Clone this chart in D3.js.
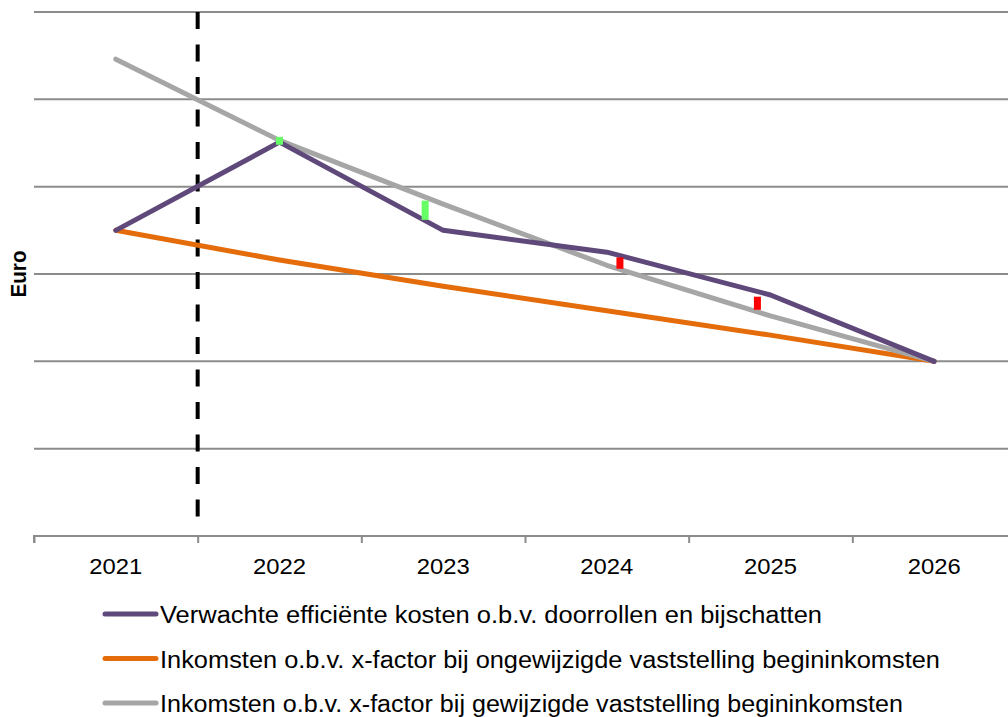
<!DOCTYPE html>
<html>
<head>
<meta charset="utf-8">
<script src="https://cdn.jsdelivr.net/npm/d3@7"></script>
<style>
  body { margin: 0; background: #fff; }
  svg { display: block; font-family: "Liberation Sans", Arial, sans-serif; }
</style>
</head>
<body>
<div id="chart"></div>
<script>
// data (y in gridline units, 0 = axis)
const years = [2021, 2022, 2023, 2024, 2025, 2026];
const kosten = [3.50, 4.51, 3.50, 3.25, 2.76, 2.00];
const inkomstenOngewijzigd = [3.50, 3.16, 2.86, 2.58, 2.30, 2.00];
const inkomstenGewijzigd = [5.46, 4.53, 3.80, 3.10, 2.52, 2.00];
const seriesNames = [
  'Verwachte efficiënte kosten o.b.v. doorrollen en bijschatten',
  'Inkomsten o.b.v. x-factor bij ongewijzigde vaststelling begininkomsten',
  'Inkomsten o.b.v. x-factor bij gewijzigde vaststelling begininkomsten'
];
const legendWidths = [662, 780, 743];
const seriesColors = ['#5F497A', '#E46C0A', '#A6A6A6'];
// small difference markers
const markerYear = [2022.0, 2022.89, 2024.08, 2024.92];
const markerLow = [4.48, 3.62, 3.06, 2.59];
const markerHigh = [4.57, 3.84, 3.19, 2.74];
const markerColor = ['#66FF66', '#66FF66', '#FF0000', '#FF0000'];
const gridTicks = [1, 2, 3, 4, 5, 6];
const dividerYear = 2021.5;

const width = 1008, height = 717;
const svg = d3.select('#chart').append('svg')
    .attr('width', width)
    .attr('height', height);

let x = d3.scaleLinear().domain([2020.5, 2026.5]).range([34, 1016]);
let y = d3.scaleLinear().domain([0, 6]).range([536, 12]);

// gridlines
gridTicks.forEach(t =>
    svg.append('line')
        .attr('x1', 34).attr('x2', width)
        .attr('y1', y(t)).attr('y2', y(t))
        .attr('stroke', '#8C8C8C')
        .attr('stroke-width', 2)
);

// x axis
const xAxis = d3.axisBottom(x)
    .tickValues(d3.range(2020.5, 2026.6, 1))
    .tickSize(7)
    .tickFormat('');
const gx = svg.append('g').attr('transform', `translate(0,${y(0)})`).call(xAxis);
gx.select('.domain').attr('stroke', '#8C8C8C').attr('stroke-width', 2).attr('d', `M34,7V0H${width}`);
gx.selectAll('.tick line').attr('stroke', '#8C8C8C').attr('stroke-width', 2);

years.forEach(yr =>
    svg.append('text')
        .attr('x', x(yr))
        .attr('y', 574)
        .attr('text-anchor', 'middle')
        .attr('font-size', 22.5)
        .attr('textLength', 53)
        .attr('lengthAdjust', 'spacingAndGlyphs')
        .attr('fill', '#000')
        .text(yr)
);

// y label
svg.append('text')
    .attr('transform', `translate(26,${y(3)}) rotate(-90)`)
    .attr('text-anchor', 'middle')
    .attr('font-size', 22)
    .attr('font-weight', 'bold')
    .attr('textLength', 47)
    .attr('lengthAdjust', 'spacingAndGlyphs')
    .text('Euro');

// dashed divider
svg.append('line')
    .attr('x1', x(dividerYear)).attr('x2', x(dividerYear))
    .attr('y1', y(6)).attr('y2', 520)
    .attr('stroke', '#000')
    .attr('stroke-width', 4)
    .attr('stroke-dasharray', '17,15.5');

let line = d3.line()
    .x((d, i) => x(years[i]))
    .y(d => y(d));

const allSeries = [inkomstenOngewijzigd, inkomstenGewijzigd, kosten];
const colorOrder = [seriesColors[1], seriesColors[2], seriesColors[0]];
allSeries.forEach((s, i) =>
    svg.append('path')
        .datum(s)
        .attr('d', line)
        .attr('fill', 'none')
        .attr('stroke', colorOrder[i])
        .attr('stroke-width', 5)
        .attr('stroke-linejoin', 'round')
        .attr('stroke-linecap', 'round')
);

// difference markers
for (let i = 0; i < markerYear.length; i++) {
    svg.append('rect')
        .attr('x', x(markerYear[i]) - 3.5)
        .attr('y', y(markerHigh[i]))
        .attr('width', 7)
        .attr('height', y(markerLow[i]) - y(markerHigh[i]))
        .attr('fill', markerColor[i]);
}

// legend
seriesNames.forEach((name, i) => {
    let ly = 614 + i * 44.5;
    svg.append('line')
        .attr('x1', 105).attr('x2', 156)
        .attr('y1', ly).attr('y2', ly)
        .attr('stroke', seriesColors[i])
        .attr('stroke-width', 5)
        .attr('stroke-linecap', 'round');
    svg.append('text')
        .attr('x', 160)
        .attr('y', ly + 9)
        .attr('font-size', 23)
        .attr('textLength', legendWidths[i])
        .attr('lengthAdjust', 'spacingAndGlyphs')
        .attr('fill', '#000')
        .text(name);
});
</script>
</body>
</html>
